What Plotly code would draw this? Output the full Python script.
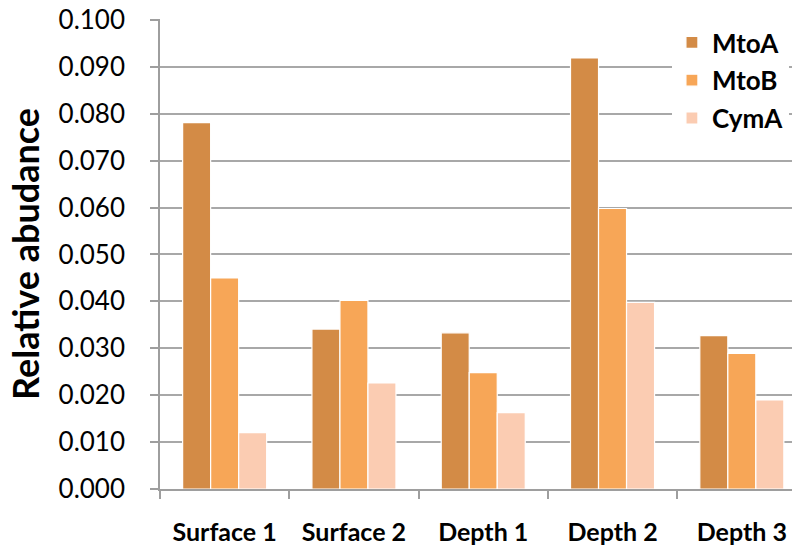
import plotly.graph_objects as go

categories = ["Surface 1", "Surface 2", "Depth 1", "Depth 2", "Depth 3"]
mtoa = [0.0781, 0.0341, 0.0333, 0.0919, 0.0327]
mtob = [0.0450, 0.0402, 0.0248, 0.0598, 0.0289]
cyma = [0.0120, 0.0226, 0.0163, 0.0398, 0.0190]
y_ticks = [i / 100 for i in range(0, 11)]

series = [("MtoA", mtoa, "#D38B46"), ("MtoB", mtob, "#F7A657"), ("CymA", cyma, "#FBCCB2")]

fig = go.Figure()
for i, (name, vals, col) in enumerate(series):
    fig.add_trace(go.Bar(
        x=categories, y=vals, name=name, legendgroup=f"g{i}",
        marker=dict(color=col, line=dict(color="white", width=1.2)),
    ))

FONT = "Lato, Open Sans, sans-serif"
fig.update_layout(
    width=792, height=548,
    margin=dict(l=160, r=0, t=19, b=59),
    paper_bgcolor="white", plot_bgcolor="white",
    barmode="group", bargap=0.35, bargroupgap=0.0,
    font=dict(family=FONT, color="black"),
    legend=dict(
        x=0.81, y=1.0, xanchor="left", yanchor="top",
        bgcolor="white", font=dict(size=26, family=FONT, weight="bold"),
        traceorder="grouped", tracegroupgap=1,
        itemwidth=30,
    ),
    xaxis=dict(
        range=[-0.5, 4.388], automargin=False,
        showline=True, linecolor="#9E9E9E", linewidth=1.5,
        ticks="outside", tickson="boundaries", ticklen=8, tickcolor="#9E9E9E", tickwidth=1.5,
        tickfont=dict(size=25, family=FONT, weight="bold"),
        ticklabelstandoff=20, ticklabeloverflow="allow",
        showgrid=False,
    ),
    yaxis=dict(
        range=[0, 0.1002], tickvals=y_ticks, tickformat=".3f", automargin=False,
        showline=True, linecolor="#9E9E9E", linewidth=1.5,
        ticks="outside", ticklen=8, tickcolor="#9E9E9E", tickwidth=1.5,
        showgrid=True, gridcolor="#A8A8A8", gridwidth=1.5,
        zeroline=False,
        tickfont=dict(size=26, family=FONT),
        ticklabelstandoff=20, ticklabeloverflow="allow",
        title=dict(text="Relative abudance", font=dict(size=36, family=FONT, weight="bold"), standoff=8),
    ),
)

fig.write_html("out.html", config={"displayModeBar": False},
               post_script="document.body.style.margin='0';")
